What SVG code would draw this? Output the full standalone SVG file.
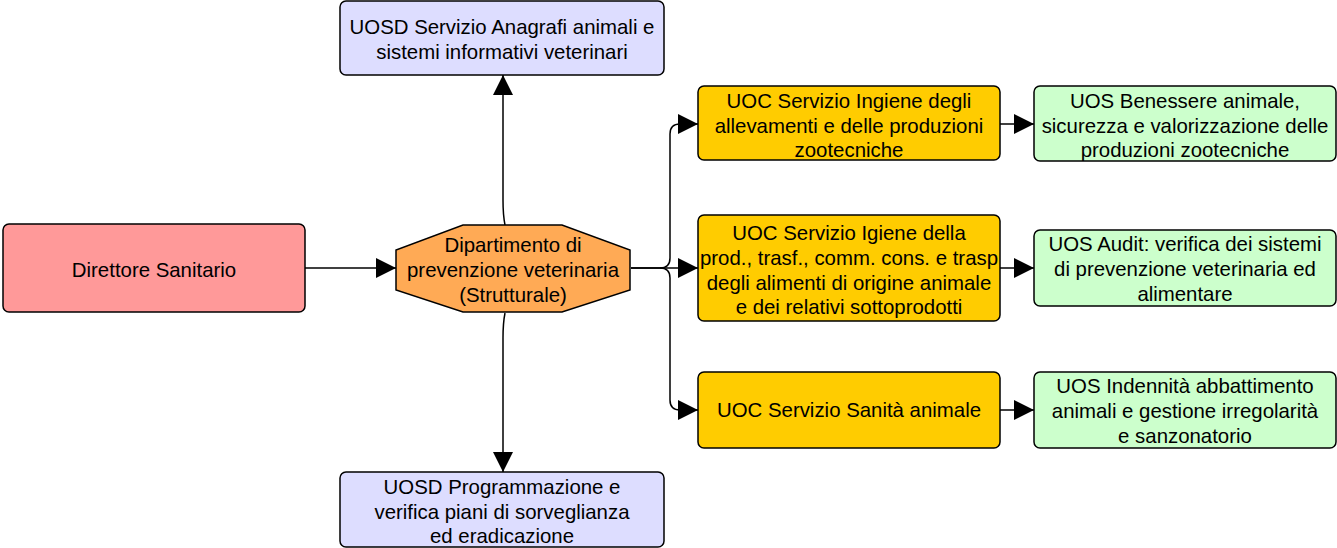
<svg xmlns="http://www.w3.org/2000/svg" width="1337" height="548" viewBox="0 0 1337 548">
<defs>
<style>
.box{stroke:#000;stroke-width:1.5}
.t{font-family:"Liberation Sans",Arial,sans-serif;font-size:20.4px;fill:#000;text-anchor:middle}
.c{fill:none;stroke:#000;stroke-width:1.5}
</style>
<marker id="ah" markerWidth="20" markerHeight="20" refX="20" refY="10" orient="auto" markerUnits="userSpaceOnUse" viewBox="0 0 20 20">
<path d="M0,0 L20,10 L0,20 Z" fill="#000"/>
</marker>
</defs>
<rect width="1337" height="548" fill="#fff"/>
<g id="connectors">
<path class="c" d="M305,268 H396" marker-end="url(#ah)"/>
<path class="c" d="M505,225 Q503,215 503,200 V75" marker-end="url(#ah)"/>
<path class="c" d="M505,313 Q503,323 503,338 V472" marker-end="url(#ah)"/>
<path class="c" d="M631,268 H660 Q670,268 670,258 V134 Q670,124 680,124 H698" marker-end="url(#ah)"/>
<path class="c" d="M631,268 H698" marker-end="url(#ah)"/>
<path class="c" d="M660,268 Q670,268 670,278 V400 Q670,410 680,410 H698" marker-end="url(#ah)"/>
<path class="c" d="M1000,124 H1034" marker-end="url(#ah)"/>
<path class="c" d="M1000,268 H1034" marker-end="url(#ah)"/>
<path class="c" d="M1000,410 H1034" marker-end="url(#ah)"/>
</g>
<g id="direttore">
<rect class="box" x="3" y="224" width="302" height="88" rx="6" fill="#FF9999"/>
<text class="t" x="154" y="277">Direttore Sanitario</text>
</g>
<g id="dipartimento">
<polygon class="box" points="463,225 562,225 630,250 630,290 562,312 463,312 396,290 396,250" fill="#FFAA55"/>
<text class="t" x="513" y="252">Dipartimento di</text>
<text class="t" x="513" y="277">prevenzione veterinaria</text>
<text class="t" x="513" y="302">(Strutturale)</text>
</g>
<g id="anagrafi">
<rect class="box" x="340" y="1" width="324" height="74" rx="6" fill="#DDDDFF"/>
<text class="t" x="502" y="34">UOSD Servizio Anagrafi animali e</text>
<text class="t" x="502" y="59">sistemi informativi veterinari</text>
</g>
<g id="programmazione">
<rect class="box" x="340" y="472" width="324" height="75" rx="6" fill="#DDDDFF"/>
<text class="t" x="502" y="494">UOSD Programmazione e</text>
<text class="t" x="502" y="519">verifica piani di sorveglianza</text>
<text class="t" x="502" y="543">ed eradicazione</text>
</g>
<g id="igiene-allevamenti">
<rect class="box" x="698" y="86" width="302" height="74" rx="6" fill="#FFCC00"/>
<text class="t" x="849" y="108">UOC Servizio Ingiene degli</text>
<text class="t" x="849" y="133">allevamenti e delle produzioni</text>
<text class="t" x="849" y="157">zootecniche</text>
</g>
<g id="igiene-prod">
<rect class="box" x="698" y="215" width="302" height="106" rx="6" fill="#FFCC00"/>
<text class="t" x="849" y="240">UOC Servizio Igiene della</text>
<text class="t" x="849" y="265">prod., trasf., comm. cons. e trasp</text>
<text class="t" x="849" y="290">degli alimenti di origine animale</text>
<text class="t" x="849" y="314">e dei relativi sottoprodotti</text>
</g>
<g id="sanita">
<rect class="box" x="698" y="372" width="302" height="76" rx="6" fill="#FFCC00"/>
<text class="t" x="849" y="417">UOC Servizio Sanità animale</text>
</g>
<g id="benessere">
<rect class="box" x="1034" y="86" width="302" height="75" rx="6" fill="#CCFFCC"/>
<text class="t" x="1185" y="108">UOS Benessere animale,</text>
<text class="t" x="1185" y="133">sicurezza e valorizzazione delle</text>
<text class="t" x="1185" y="157">produzioni zootecniche</text>
</g>
<g id="audit">
<rect class="box" x="1034" y="230" width="302" height="76" rx="6" fill="#CCFFCC"/>
<text class="t" x="1185" y="251">UOS Audit: verifica dei sistemi</text>
<text class="t" x="1185" y="276">di prevenzione veterinaria ed</text>
<text class="t" x="1185" y="301">alimentare</text>
</g>
<g id="indennita">
<rect class="box" x="1034" y="372" width="302" height="76" rx="6" fill="#CCFFCC"/>
<text class="t" x="1185" y="393">UOS Indennità abbattimento</text>
<text class="t" x="1185" y="418">animali e gestione irregolarità</text>
<text class="t" x="1185" y="443">e sanzonatorio</text>
</g>
</svg>
